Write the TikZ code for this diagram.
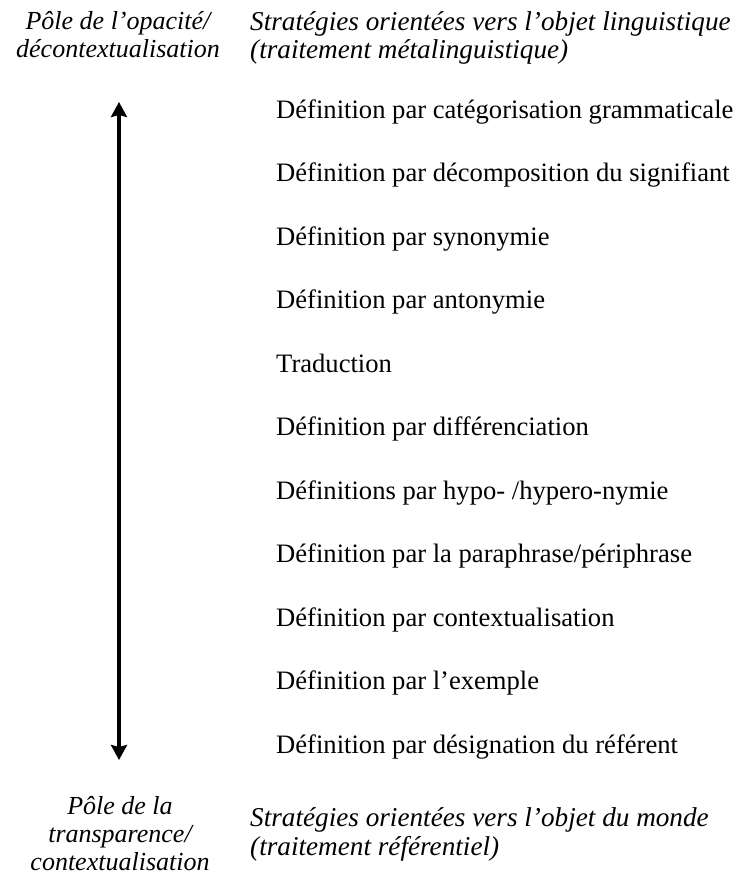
\documentclass[tikz,border=0pt]{standalone}
\usepackage{fontspec}
\setmainfont{Liberation Serif}
\usetikzlibrary{arrows.meta}
\begin{document}
\begin{tikzpicture}[x=1pt,y=-1pt,
  item/.style={anchor=base west, inner sep=0pt, font=\fontsize{26.6}{30}\selectfont},
  labtop/.style={inner sep=0pt, anchor=north, align=center, font=\itshape\fontsize{26}{28}\selectfont},
  labtopr/.style={inner sep=0pt, anchor=north west, align=left, font=\itshape\fontsize{27.2}{28}\selectfont},
  labbot/.style={inner sep=0pt, anchor=north, align=center, font=\itshape\fontsize{26}{28}\selectfont},
  labbotr/.style={inner sep=0pt, anchor=north west, align=left, font=\itshape\fontsize{27.2}{29}\selectfont},
  axis/.style={line width=3.4pt, {Stealth[width=16pt,length=15pt,inset=2pt]}-{Stealth[width=16pt,length=15pt,inset=2pt]}},
]
\useasboundingbox (0,0) rectangle (738,878);
\node[labtop] (tl) at (118,11) {Pôle de l’opacité/\\décontextualisation};
\node[labtopr] (tr) at (250,11) {Stratégies orientées vers l’objet linguistique\\(traitement métalinguistique)};
\node[labbot] (bl) at (120,796) {Pôle de la\\transparence/\\contextualisation};
\node[labbotr] (br) at (250,807) {Stratégies orientées vers l’objet du monde\\(traitement référentiel)};
\foreach \t [count=\i from 0] in {
  Définition par catégorisation grammaticale,
  Définition par décomposition du signifiant,
  Définition par synonymie,
  Définition par antonymie,
  Traduction,
  Définition par différenciation,
  Définitions par hypo- /hypero-nymie,
  Définition par la paraphrase/périphrase,
  Définition par contextualisation,
  Définition par l’exemple,
  Définition par désignation du référent}
  \node[item] (d\i) at (276,118+63.5*\i) {\t};
\coordinate (atop) at (119,102);
\coordinate (abot) at (119,760);
\draw[axis] (atop) -- (abot);
\end{tikzpicture}
\end{document}
